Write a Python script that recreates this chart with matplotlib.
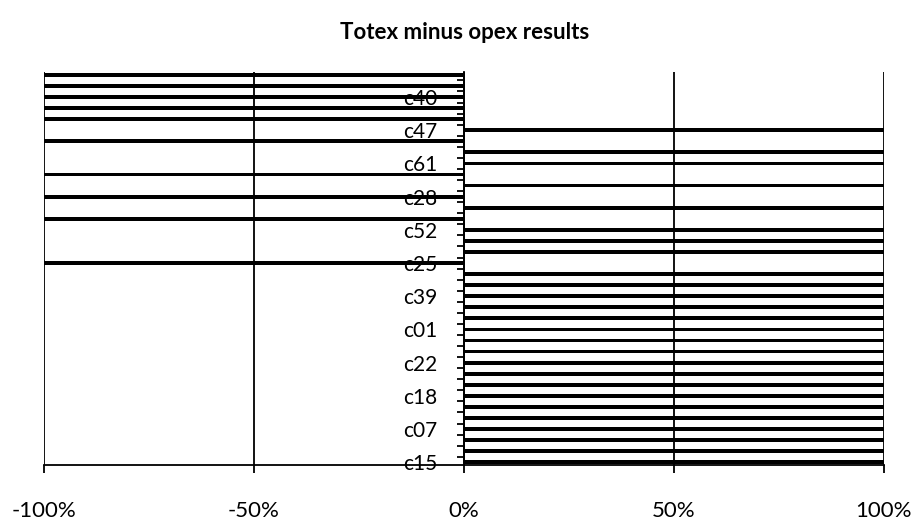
import numpy as np
import matplotlib
matplotlib.use("Agg")
import matplotlib.pyplot as plt

plt.rcParams['font.family'] = ['Lato', 'DejaVu Sans']

# categories from bottom (first) to top (last); only every third name is shown on the chart
cat_labels = ['c15', '', '', 'c07', '', '', 'c18', '', '', 'c22', '', '',
              'c01', '', '', 'c39', '', '', 'c25', '', '', 'c52', '', '',
              'c28', '', '', 'c61', '', '', 'c47', '', '', 'c40', '', '']

# totex minus opex result (%), every bar runs past the +/-100% axis limit
values = [100, 100, 100, 100, 100, 100, 100, 100, 100, 100, 100, 100,
          100, 100, 100, 100, 100, 100, -100, 100, 100, 100, -100, 100,
          -100, 100, -100, 100, 100, -100, 100, -100, -100, -100, -100, -100]

x_ticks = [-100, -50, 0, 50, 100]
x_tick_labels = ['-100%', '-50%', '0%', '50%', '100%']

fig = plt.figure(figsize=(9.14, 5.21), dpi=100, facecolor='white')
ax = fig.add_axes([0.048, 0.107, 0.919, 0.755])

pos = np.arange(len(values))
ax.barh(pos, values, height=0.34, color='black', zorder=3)

ax.set_xlim(-100, 100)
ax.set_ylim(-0.27, len(values) - 1 + 0.27)

ax.set_xticks(x_ticks)
ax.set_xticklabels(x_tick_labels)
ax.xaxis.grid(True, color='black', linewidth=1.3)
ax.tick_params(axis='x', direction='out', length=6, width=1.3, pad=20,
               colors='black', labelsize=16)

ax.set_yticks(pos)
ax.set_yticklabels(cat_labels)
ax.set_yticks(pos[:-1] + 0.5, minor=True)
ax.tick_params(axis='y', which='major', length=0, pad=19, labelsize=15)
ax.tick_params(axis='y', which='minor', direction='out', length=5, width=1.3)

ax.spines['left'].set_position(('data', 0))
ax.spines['left'].set_linewidth(1.3)
ax.spines['bottom'].set_linewidth(1.3)
ax.spines['top'].set_visible(False)
ax.spines['right'].set_visible(False)

fig.text(0.508, 0.937, 'Totex minus opex results', ha='center', va='center',
         fontsize=16, fontweight='bold')

fig.savefig('out.png', dpi=100, facecolor='white')
